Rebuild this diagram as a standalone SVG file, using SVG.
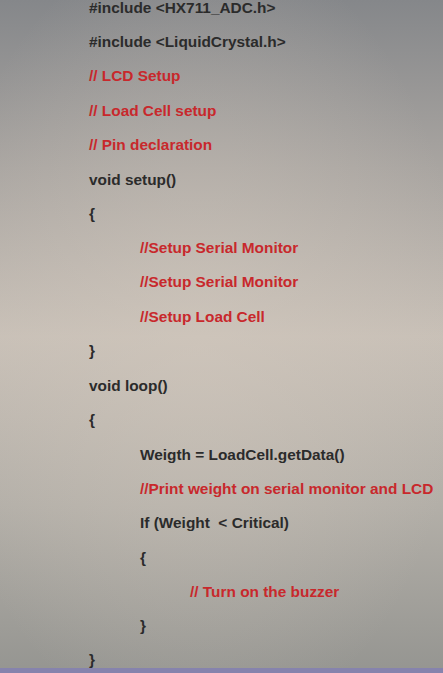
<svg xmlns="http://www.w3.org/2000/svg" width="443" height="673" viewBox="0 0 443 673">
<defs>
<linearGradient id="bg" x1="0" y1="0" x2="0" y2="1">
<stop offset="0" stop-color="#85878a"/>
<stop offset="0.25" stop-color="#a9a5a1"/>
<stop offset="0.5" stop-color="#c8c0b7"/>
<stop offset="0.75" stop-color="#b3afa8"/>
<stop offset="1" stop-color="#959591"/>
</linearGradient>
<radialGradient id="glow" cx="0.45" cy="0.5" r="0.6">
<stop offset="0" stop-color="#d2c8bd" stop-opacity="0.5"/>
<stop offset="1" stop-color="#d2c8bd" stop-opacity="0"/>
</radialGradient>
</defs>
<style>
text{font-family:"Liberation Sans",Arial,sans-serif;font-weight:bold;font-size:15.4px}
.k{fill:#2b2b2b}
.c{fill:#c8282c}
</style>
<rect width="443" height="673" fill="url(#bg)"/>
<rect width="443" height="673" fill="url(#glow)"/>
<rect x="0" y="668" width="443" height="5" fill="#8683ad"/>
<g id="code">
<text class="k" x="89" y="13">#include &lt;HX711_ADC.h&gt;</text>
<text class="k" x="89" y="47">#include &lt;LiquidCrystal.h&gt;</text>
<text class="c" x="89" y="81">// LCD Setup</text>
<text class="c" x="89" y="116">// Load Cell setup</text>
<text class="c" x="89" y="150">// Pin declaration</text>
<text class="k" x="89" y="185">void setup()</text>
<text class="k" x="89" y="219">{</text>
<text class="c" x="140" y="253">//Setup Serial Monitor</text>
<text class="c" x="140" y="287">//Setup Serial Monitor</text>
<text class="c" x="140" y="322">//Setup Load Cell</text>
<text class="k" x="89" y="356">}</text>
<text class="k" x="89" y="391">void loop()</text>
<text class="k" x="89" y="425">{</text>
<text class="k" x="140" y="460">Weigth = LoadCell.getData()</text>
<text class="c" x="140" y="494">//Print weight on serial monitor and LCD</text>
<text class="k" x="140" y="528" xml:space="preserve">If (Weight  &lt; Critical)</text>
<text class="k" x="140" y="563">{</text>
<text class="c" x="190" y="597">// Turn on the buzzer</text>
<text class="k" x="140" y="631">}</text>
<text class="k" x="89" y="665">}</text>
</g>
</svg>
